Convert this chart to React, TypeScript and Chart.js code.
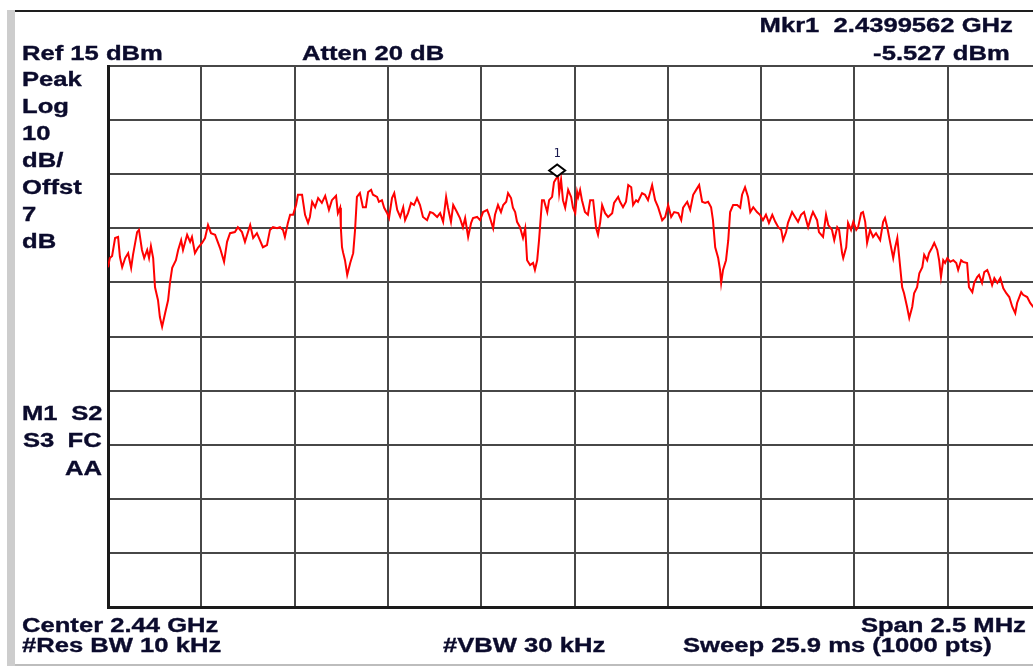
import React, { useEffect, useRef } from "react";
import { Chart, registerables } from "chart.js";

Chart.register(...registerables);

// Sweep: centre 2.44 GHz, span 2.5 MHz -> x is frequency offset from centre in kHz
const spanKHz = 2500;
const divisionKHz = 250;
const refLevelDbm = 15;
const dbPerDiv = 10;
const divisions = 10;

const freqOffsetKHz = [
  -1250, -1245, -1239, -1231, -1223, -1218, -1212, -1204, -1196, -1188,
  -1183, -1172, -1167, -1159, -1153, -1145, -1140, -1135, -1129, -1124,
  -1116, -1111, -1105, -1097, -1089, -1084, -1078, -1068, -1062, -1054,
  -1049, -1038, -1030, -1025, -1017, -1009, -998, -990, -982, -974,
  -963, -950, -939, -931, -923, -910, -902, -891, -883, -869,
  -861, -851, -843, -835, -824, -816, -808, -797, -789, -781,
  -776, -768, -762, -754, -746, -741, -730, -722, -714, -709,
  -703, -695, -687, -677, -668, -658, -650, -639, -634, -628,
  -626, -623, -620,
  -615, -609, -601, -593, -588, -583, -575, -567, -559, -553,
  -545, -540, -529, -524, -516, -510, -502, -497, -489, -483,
  -475, -467, -459, -454, -446, -438, -430, -422, -414, -406,
  -395, -387, -379, -368, -360, -352, -344, -339, -331, -325,
  -315, -307, -299, -293, -285, -277, -272, -261, -253, -245,
  -234, -229, -218, -213, -205, -197, -191, -183, -178, -170,
  -165, -159, -154, -146, -138, -132, -127, -119, -111, -106,
  -100, -95, -87, -82, -73, -68, -60, -55, -49, -43.8,
  -41, -36, -31, -25, -17, -9, -4, 2, 7, 10,
  15, 20, 28, 36, 42, 50, 58, 63, 69, 74,
  82, 90, 101, 106, 117, 122, 130, 138, 144, 152,
  157, 165, 170, 181, 189, 197, 208, 216, 224, 229,
  235, 243, 251, 259, 267, 278, 286, 291, 302, 310,
  318, 326, 334, 342, 350, 358, 366, 371, 377, 385,
  390, 393, 398, 406, 412, 417, 425, 436, 444, 449,
  457, 465, 471, 479, 489, 497, 505, 513, 521, 530,
  538, 546, 554, 559, 567, 572, 583, 591, 599, 607,
  615, 626, 634, 639, 650, 655, 666, 674, 680, 690,
  696, 704, 709, 717, 720, 728, 733, 741, 747, 755,
  760, 768, 773, 779, 784, 792, 800, 808, 819, 827,
  832, 838, 846, 854, 859, 865, 870, 878, 883, 891,
  897, 905, 910, 918, 924, 932, 937, 945, 950, 958,
  964, 972, 977, 982, 988, 993, 999, 1007, 1015, 1023,
  1028, 1036, 1041, 1052, 1057, 1066, 1071, 1079, 1084, 1092,
  1098, 1106, 1111, 1119, 1125, 1133, 1141, 1149, 1157, 1165,
  1173, 1181, 1186, 1197, 1202, 1213, 1221, 1229, 1242, 1250,
];

const levelDbm = [
  -22.2, -20.5, -20.1, -16.8, -16.6, -20.3, -22.2, -20.5, -19.6, -22.3,
  -19.9, -15.7, -15.3, -19.0, -20.5, -19.0, -20.5, -18.3, -20.5, -25.9,
  -28.3, -31.4, -33.2, -30.7, -28.3, -25.1, -22.3, -20.9, -19.0, -17.2,
  -19.0, -16.2, -17.5, -16.6, -19.6, -18.6, -17.7, -16.8, -14.4, -15.9,
  -16.2, -18.6, -21.2, -17.5, -15.9, -15.7, -14.8, -15.7, -17.5, -14.4,
  -16.8, -15.9, -17.2, -18.5, -18.1, -15.3, -14.8, -15.0, -14.8, -15.3,
  -16.6, -14.0, -12.5, -12.5, -10.7, -8.8, -8.8, -12.5, -14.0, -12.9,
  -10.1, -11.1, -9.4, -10.3, -9.0, -11.6, -9.8, -9.0, -12.2, -11.2,
  -15.0, -18.5, -19.5,
  -20.9, -23.6, -21.4, -19.6, -15.3, -9.2, -8.5, -11.1, -11.1, -8.3,
  -7.9, -8.8, -9.2, -10.1, -9.8, -11.2, -12.2, -13.1, -9.4, -8.5,
  -11.6, -12.9, -11.1, -13.5, -12.2, -10.3, -10.7, -9.4, -10.7, -12.9,
  -13.5, -12.0, -12.2, -12.9, -12.2, -13.8, -9.2, -11.2, -13.8, -10.7,
  -12.0, -13.1, -14.8, -13.1, -16.6, -14.0, -13.1, -12.9, -13.5, -12.0,
  -11.6, -12.5, -15.0, -12.5, -10.7, -12.0, -10.7, -10.1, -8.5, -9.4,
  -11.2, -12.0, -13.8, -14.8, -16.8, -15.0, -20.9, -21.8, -21.4, -22.7,
  -20.9, -17.2, -9.8, -9.8, -12.0, -9.8, -9.2, -6.5, -5.8, -5.527,
  -8.5, -6.0, -9.8, -11.2, -7.9, -9.2, -11.2, -12.2, -8.3, -9.2,
  -7.9, -9.8, -12.0, -12.5, -9.8, -9.8, -15.0, -16.2, -13.8, -10.7,
  -12.2, -12.9, -12.2, -10.3, -9.2, -10.1, -11.1, -10.1, -7.0, -7.4,
  -10.7, -9.8, -10.1, -8.5, -8.8, -9.8, -7.0, -9.8, -11.1, -12.2,
  -13.5, -12.9, -10.7, -12.9, -12.0, -12.2, -13.5, -11.2, -10.1, -11.6,
  -8.8, -7.9, -7.0, -10.1, -10.3, -10.1, -11.1, -13.5, -18.5, -20.5,
  -22.7, -25.1, -22.7, -20.9, -17.2, -12.0, -10.7, -10.7, -11.2, -8.8,
  -7.4, -9.2, -12.0, -11.1, -12.0, -12.5, -13.5, -12.5, -14.0, -12.5,
  -13.8, -14.8, -15.3, -17.2, -15.7, -14.0, -12.0, -12.9, -13.8, -12.5,
  -12.0, -14.8, -12.9, -12.0, -13.5, -15.7, -16.6, -12.5, -14.4, -15.3,
  -17.2, -14.8, -15.3, -19.6, -20.5, -18.5, -14.0, -15.3, -13.8, -15.3,
  -14.8, -12.2, -12.0, -13.8, -17.7, -15.3, -16.6, -15.9, -17.2, -13.8,
  -13.1, -14.8, -17.7, -20.5, -18.6, -16.8, -20.3, -25.9, -27.0, -29.5,
  -31.6, -29.5, -27.0, -25.9, -23.3, -22.2, -19.9, -20.9, -19.6, -18.6,
  -17.7, -19.0, -20.9, -24.0, -20.9, -21.4, -20.5, -21.2, -20.9, -21.4,
  -22.7, -20.9, -21.2, -21.4, -25.9, -26.8, -25.1, -24.0, -23.6, -25.1,
  -23.1, -22.7, -23.6, -25.5, -24.2, -25.1, -24.2, -26.1, -27.0, -27.7,
  -29.5, -30.7, -28.8, -26.8, -27.3, -27.7, -28.8, -29.5, -29.7, -30.2,
];

const markerFreqKHz = -43.8; // 2.4399562 GHz
const markerLevelDbm = -5.527;
const markerLabel = "1";

const sideLabels = ["Peak", "Log", "10", "dB/", "Offst", "7", "dB"];

const TEXT_COLOR = "#0b0b2c";
const FONT = "'Liberation Sans', Arial, sans-serif";
const SX = 1.28;

const markerPlugin = {
  id: "markerPlugin",
  afterDatasetsDraw(chart: any) {
    const { ctx, scales } = chart;
    const px = scales.x.getPixelForValue(markerFreqKHz);
    const py = scales.y.getPixelForValue(markerLevelDbm);
    const cx = px - 1;
    const cy = py - 6.5;
    ctx.save();
    ctx.beginPath();
    ctx.moveTo(cx - 8, cy);
    ctx.lineTo(cx, cy - 6);
    ctx.lineTo(cx + 8, cy);
    ctx.lineTo(cx, cy + 6);
    ctx.closePath();
    ctx.fillStyle = "#ffffff";
    ctx.fill();
    ctx.lineWidth = 2;
    ctx.strokeStyle = "#000000";
    ctx.stroke();
    ctx.fillStyle = "#1a1a50";
    ctx.font = "12px 'DejaVu Sans Mono', monospace";
    ctx.textAlign = "center";
    ctx.textBaseline = "alphabetic";
    ctx.fillText(markerLabel, cx, cy - 14);
    ctx.restore();
  },
};

function Txt(props: { x?: number; right?: number; baseline: number; children: any }) {
  const style: any = {
    position: "absolute",
    top: props.baseline - 17,
    font: `bold 20px ${FONT}`,
    lineHeight: "20px",
    whiteSpace: "pre",
    color: TEXT_COLOR,
    WebkitTextStroke: `0.35px ${TEXT_COLOR}`,
    transform: `scaleX(${SX})`,
  };
  if (props.right !== undefined) {
    style.right = 1033 - props.right;
    style.transformOrigin = "right center";
  } else {
    style.left = props.x;
    style.transformOrigin = "left center";
  }
  return <div style={style}>{props.children}</div>;
}

export default function App() {
  const canvasRef = useRef<HTMLCanvasElement | null>(null);

  useEffect(() => {
    document.body.style.margin = "0";
    document.body.style.overflow = "hidden";
    const canvas = canvasRef.current;
    if (!canvas) return;
    const n = Math.min(freqOffsetKHz.length, levelDbm.length);
    const points = [];
    for (let i = 0; i < n; i++) points.push({ x: freqOffsetKHz[i], y: levelDbm[i] });

    const chart = new Chart(canvas, {
      type: "line",
      data: {
        datasets: [
          {
            data: points,
            borderColor: "#ff0000",
            borderWidth: 2,
            pointRadius: 0,
            tension: 0,
            fill: false,
          },
        ],
      },
      options: {
        responsive: false,
        animation: false,
        devicePixelRatio: 1,
        layout: { padding: { left: 108, top: 66, right: 4, bottom: 59 } },
        plugins: { legend: { display: false }, tooltip: { enabled: false } },
        events: [],
        scales: {
          x: {
            type: "linear",
            min: -spanKHz / 2,
            max: spanKHz / 2,
            ticks: { display: false, stepSize: divisionKHz },
            grid: { color: "#474747", lineWidth: 2, drawTicks: false },
            border: { display: true, color: "#1a1a1a", width: 3 },
            afterFit: (s: any) => {
              s.height = 0;
            },
          },
          y: {
            type: "linear",
            min: refLevelDbm - dbPerDiv * divisions,
            max: refLevelDbm,
            ticks: { display: false, stepSize: dbPerDiv },
            grid: { color: "#474747", lineWidth: 2, drawTicks: false },
            border: { display: true, color: "#1a1a1a", width: 3 },
            afterFit: (s: any) => {
              s.width = 0;
            },
          },
        },
      } as any,
      plugins: [markerPlugin],
    });
    return () => chart.destroy();
  }, []);

  return (
    <div
      style={{
        position: "absolute",
        left: 0,
        top: 0,
        width: 1033,
        height: 666,
        overflow: "hidden",
        background: "#ffffff",
      }}
    >
      <div style={{ position: "absolute", left: 7, top: 10, width: 8, height: 656, background: "#cdcdcd" }} />
      <div style={{ position: "absolute", left: 15, top: 10, width: 1018, height: 2, background: "#1e1e1e" }} />
      <div style={{ position: "absolute", left: 15, top: 664, width: 1018, height: 2, background: "#bdbdbd" }} />
      <canvas
        ref={canvasRef}
        width={1045}
        height={666}
        style={{ position: "absolute", left: 0, top: 0, width: 1045, height: 666 }}
      />
      <Txt right={1013} baseline={32}>{"Mkr1  2.4399562 GHz"}</Txt>
      <Txt x={22} baseline={60}>Ref 15 dBm</Txt>
      <Txt x={302} baseline={60}>Atten 20 dB</Txt>
      <Txt right={1010} baseline={60}>-5.527 dBm</Txt>
      {sideLabels.map((t, i) => (
        <Txt key={t + i} x={22} baseline={86 + i * 27}>
          {t}
        </Txt>
      ))}
      <Txt x={22} baseline={420}>M1</Txt>
      <Txt right={102} baseline={420}>S2</Txt>
      <Txt x={23} baseline={447}>S3</Txt>
      <Txt right={102} baseline={447}>FC</Txt>
      <Txt right={102} baseline={475}>AA</Txt>
      <Txt x={22} baseline={632}>Center 2.44 GHz</Txt>
      <Txt right={1026} baseline={632}>Span 2.5 MHz</Txt>
      <Txt x={22} baseline={652}>#Res BW 10 kHz</Txt>
      <Txt x={443} baseline={652}>#VBW 30 kHz</Txt>
      <Txt x={683} baseline={652}>Sweep 25.9 ms (1000 pts)</Txt>
    </div>
  );
}
